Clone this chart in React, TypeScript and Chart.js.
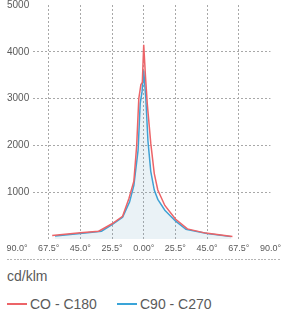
import React, { useEffect, useRef } from "react";
import { Chart, registerables } from "chart.js";

Chart.register(...registerables);

const xTickLabels = ["90.0°", "67.5°", "45.0°", "25.5°", "0.00°", "25.5°", "45.0°", "67.5°", "90.0°"];
const yTicks = [1000, 2000, 3000, 4000, 5000];

const seriesNames = ["CO - C180", "C90 - C270"];

const redAngles = [-65, -45, -32, -22.5, -15, -10.5, -7, -5, -3.5, -2, -1, 0, 1.2, 2.5, 5, 7.5, 10, 15, 22.5, 31, 44, 63];
const redValues = [80, 140, 170, 330, 490, 870, 1240, 2000, 3000, 3300, 3350, 4150, 3500, 2900, 2050, 1400, 1050, 720, 430, 220, 130, 60];

const blueAngles = [-63, -45, -30, -22.5, -15, -10, -7, -4, -2.5, -1.2, 0, 1.5, 3, 5, 7.5, 10, 15, 22.5, 30, 45, 62];
const blueValues = [70, 120, 170, 310, 470, 800, 1150, 1900, 2900, 3150, 3600, 3000, 2100, 1450, 1050, 850, 620, 390, 210, 120, 55];

const RED = "#ec6468";
const BLUE = "#3aa4d8";
const FONT = 'Helvetica, Arial, "Liberation Sans", sans-serif';
const TEXT = "#5a5a5a";
const GRID = "#a8a8a8";

const coverPlugin = {
  id: "coverLabelArea",
  beforeDatasetsDraw(chart: any) {
    const { ctx, chartArea } = chart;
    ctx.save();
    ctx.fillStyle = "#ffffff";
    ctx.fillRect(0, chartArea.top - 2, 33, chartArea.bottom - chartArea.top + 4);
    ctx.restore();
  },
};

export default function App() {
  const ref = useRef<HTMLCanvasElement | null>(null);
  useEffect(() => {
    if (!ref.current) return;
    const chart = new Chart(ref.current, {
      type: "line",
      data: {
        datasets: [
          {
            label: seriesNames[0],
            data: redAngles.map((a, i) => ({ x: a, y: redValues[i] })),
            borderColor: RED,
            backgroundColor: "rgba(238,107,110,0.03)",
            borderWidth: 1.5,
            pointRadius: 0,
            tension: 0,
            fill: "origin",
          },
          {
            label: seriesNames[1],
            data: blueAngles.map((a, i) => ({ x: a, y: blueValues[i] })),
            borderColor: BLUE,
            backgroundColor: "rgba(90,190,225,0.12)",
            borderWidth: 1.5,
            pointRadius: 0,
            tension: 0,
            fill: "origin",
          },
        ],
      },
      options: {
        animation: false,
        responsive: true,
        maintainAspectRatio: false,
        layout: { padding: { left: 7, right: 12, top: 5, bottom: 0 } },
        plugins: { legend: { display: false }, tooltip: { enabled: false } },
        scales: {
          x: {
            type: "linear",
            min: -90,
            max: 90,
            afterBuildTicks: (scale: any) => {
              scale.ticks = xTickLabels.map((_, i) => ({ value: -90 + i * 22.5 }));
            },
            ticks: {
              autoSkip: false,
              maxRotation: 0,
              padding: 4,
              color: TEXT,
              font: { family: FONT, size: 9 },
              callback: (_v: any, i: number) => xTickLabels[i],
            },
            grid: {
              drawTicks: false,
              color: (c: any) => (c.index === 0 || c.index === xTickLabels.length - 1 ? "rgba(0,0,0,0)" : GRID),
              lineWidth: 1,
            },
            border: { display: false, dash: [2, 2] },
          },
          y: {
            min: 0,
            max: 5000,
            afterBuildTicks: (scale: any) => {
              scale.ticks = yTicks.map((v) => ({ value: v }));
            },
            afterFit: (scale: any) => {
              scale.width = 10;
            },
            ticks: {
              autoSkip: false,
              mirror: true,
              padding: -10,
              z: 1,
              color: TEXT,
              font: { family: FONT, size: 10 },
              callback: (v: any) => String(v),
            },
            grid: {
              drawTicks: false,
              color: (c: any) => (c.tick && c.tick.value === 5000 ? "rgba(0,0,0,0)" : GRID),
              lineWidth: 1,
            },
            border: { display: false, dash: [2, 2] },
          },
        },
      },
      plugins: [coverPlugin],
    } as any);
    return () => chart.destroy();
  }, []);

  return (
    <div style={{ position: "absolute", left: 0, top: 0, width: 285, fontFamily: FONT }}>
      <div style={{ position: "relative", width: 285, height: 258 }}>
        <canvas ref={ref} />
      </div>
      <div
        style={{
          marginTop: 1,
          marginLeft: 7,
          width: 273,
          height: 1,
          background: "repeating-linear-gradient(to right, #b5b5b5 0 2px, transparent 2px 3.3px)",
        }}
      />
      <div style={{ marginTop: 8, marginLeft: 7, fontSize: 14, lineHeight: "16px", color: TEXT }}>cd/klm</div>
      <div style={{ marginTop: 12, marginLeft: 7, display: "flex", alignItems: "center", fontSize: 14, lineHeight: "16px", color: TEXT }}>
        <span style={{ display: "inline-block", width: 20, height: 1.5, background: RED, marginRight: 3 }} />
        <span style={{ width: 87 }}>{seriesNames[0]}</span>
        <span style={{ display: "inline-block", width: 20, height: 1.5, background: BLUE, marginRight: 3 }} />
        <span>{seriesNames[1]}</span>
      </div>
    </div>
  );
}
